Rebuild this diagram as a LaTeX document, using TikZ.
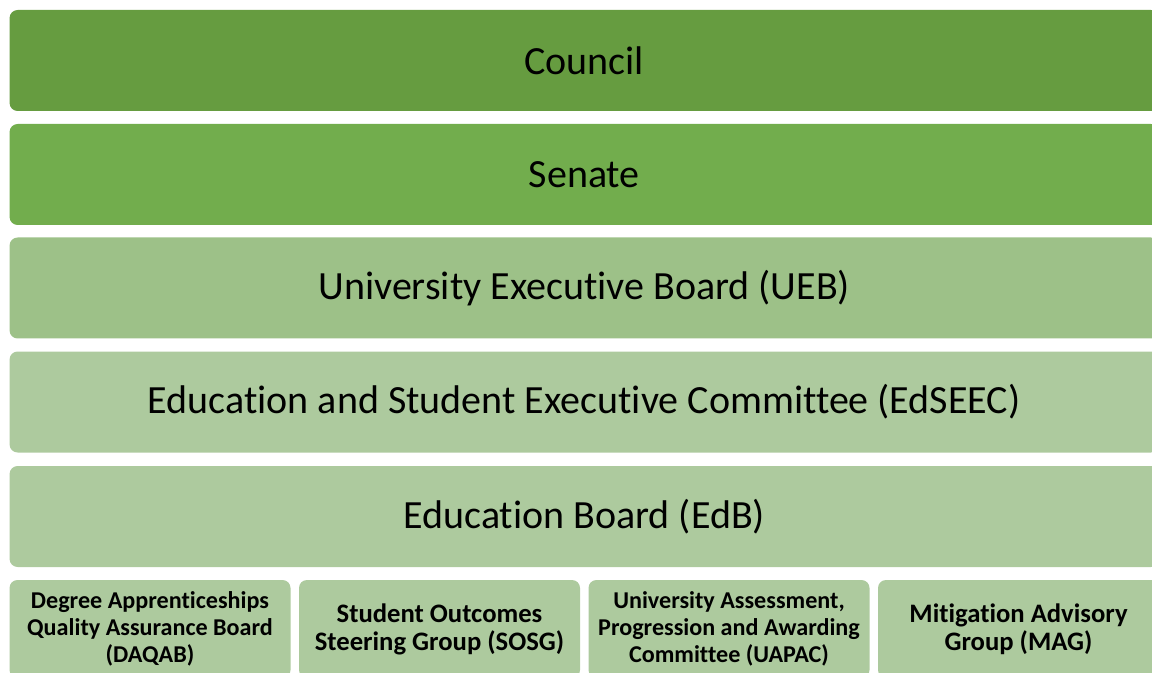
\documentclass[tikz,border=0pt]{standalone}
\usepackage{fontspec}
\setmainfont{Carlito}[Ligatures=NoCommon]
\usetikzlibrary{positioning}

\definecolor{councilgreen}{RGB}{102,156,64}
\definecolor{senategreen}{RGB}{114,173,77}
\definecolor{uebgreen}{RGB}{157,193,136}
\definecolor{paleGreen}{RGB}{173,202,158}

\begin{document}
\begin{tikzpicture}[x=0.75pt,y=-0.75pt,
    bar/.style={rounded corners=6pt,minimum width=862pt,minimum height=75.75pt,
      inner sep=0pt,font=\fontsize{30}{36}\selectfont},
    subbox/.style={rounded corners=6pt,fill=paleGreen,minimum width=210.75pt,
      minimum height=73.5pt,inner sep=0pt,align=center},
    smalltext/.style={font=\fontsize{18.1}{20.25}\selectfont\bfseries},
    bigtext/.style={font=\fontsize{20}{21}\selectfont\bfseries}]
  \useasboundingbox (0,0) rectangle (1152,673);
  \clip (0,0) rectangle (1152,673);

  % governance levels
  \foreach \n/\c/\y/\t in {council/councilgreen/60.5/Council,
      senate/senategreen/174.5/Senate,
      ueb/uebgreen/288/{University Executive Board (UEB)},
      edseec/paleGreen/402/{Education and Student Executive Committee (EdSEEC)},
      edb/paleGreen/516.5/{Education Board (EdB)}} {
    \node[bar,fill=\c] (\n) at (584.25,\y) {\t};
  }

  % groups under the Education Board
  \foreach \n/\x/\s/\t in {daqab/150/smalltext/{Degree Apprenticeships\\Quality Assurance Board\\(DAQAB)},
      sosg/439.5/bigtext/{Student Outcomes\\Steering Group (SOSG)},
      uapac/729/smalltext/{University Assessment,\\Progression and Awarding\\Committee (UAPAC)},
      mag/1018.5/bigtext/{Mitigation Advisory\\Group (MAG)}} {
    \node[subbox,\s] (\n) at (\x,629) {\t};
  }
\end{tikzpicture}
\end{document}
